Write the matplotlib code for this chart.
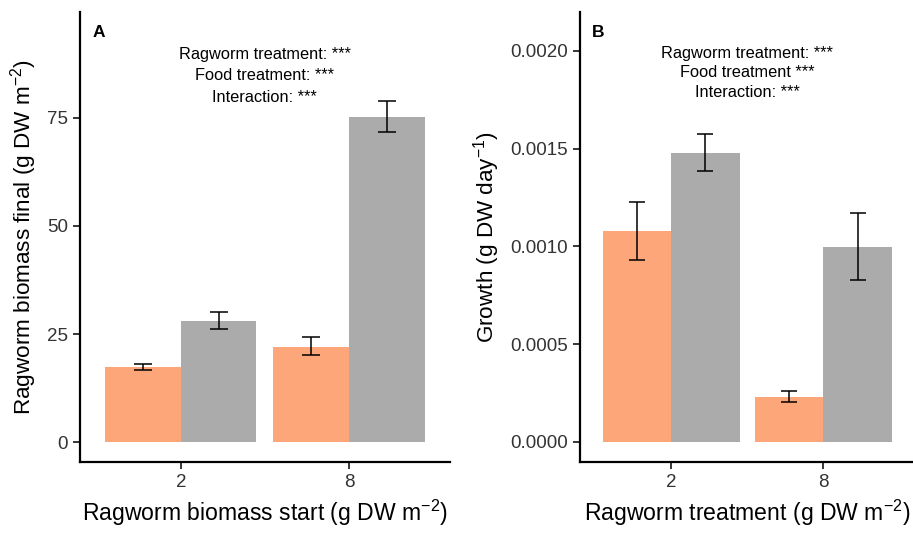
import matplotlib
matplotlib.use("Agg")
import matplotlib.pyplot as plt
import numpy as np

plt.rcParams['font.family'] = ['Liberation Sans', 'DejaVu Sans']
plt.rcParams['mathtext.default'] = 'regular'

groups = ["2", "8"]
food_colors = ["#FDA67A", "#ABABAB"]

# panel A: final biomass (orange = no food, gray = food)
biomass_orange = [17.4, 22.1]
biomass_orange_lo = [16.6, 20.1]
biomass_orange_hi = [18.1, 24.2]
biomass_gray = [28.1, 75.2]
biomass_gray_lo = [26.1, 71.7]
biomass_gray_hi = [30.0, 79.0]

# panel B: growth
growth_orange = [0.00108, 0.00023]
growth_orange_lo = [0.00093, 0.000202]
growth_orange_hi = [0.001228, 0.00026]
growth_gray = [0.001479, 0.000998]
growth_gray_lo = [0.001385, 0.000828]
growth_gray_hi = [0.001575, 0.00117]

notes_a = ["Ragworm treatment: ***", "Food treatment: ***", "Interaction: ***"]
notes_b = ["Ragworm treatment: ***", "Food treatment ***", "Interaction: ***"]


def draw_panel(ax, vals, los, his, notes, note_y, letter, ylim, yticks, yfmt,
               xlabel, ylabel, cap):
    x = np.arange(1, len(groups) + 1)
    w = 0.45
    for k, off in enumerate([-w / 2, w / 2]):
        v = np.array(vals[k])
        lo = np.array(los[k])
        hi = np.array(his[k])
        ax.bar(x + off, v, width=w, color=food_colors[k], linewidth=0)
        ax.errorbar(x + off, v, yerr=[v - lo, hi - v], fmt='none', ecolor='black',
                    elinewidth=1.1, capsize=cap, capthick=1.1)
    ax.set_xlim(0.4, 2.6)
    ax.set_ylim(*ylim)
    ax.set_xticks(x)
    ax.set_xticklabels(groups)
    ax.set_yticks(yticks)
    ax.set_yticklabels([yfmt.format(t) for t in yticks])
    ax.tick_params(labelsize=13.5, length=5, width=1.1, color='black', labelcolor='#333333')
    for s in ['top', 'right']:
        ax.spines[s].set_visible(False)
    for s in ['left', 'bottom']:
        ax.spines[s].set_linewidth(1.6)
    ax.set_xlabel(xlabel, fontsize=16.6, labelpad=5)
    ax.set_ylabel(ylabel, fontsize=16.2, labelpad=6)
    for t, yy in zip(notes, note_y):
        ax.text(1.5, yy, t, ha='center', va='center', fontsize=11.8)
    ax.text(0.035, 0.955, letter, transform=ax.transAxes, fontsize=12.5,
            fontweight='bold', ha='left', va='center')


fig = plt.figure(figsize=(9.13, 5.41), dpi=100)
ax1 = fig.add_axes([0.0876, 0.146, 0.405, 0.832])
ax2 = fig.add_axes([0.635, 0.146, 0.367, 0.832])

draw_panel(ax1, [biomass_orange, biomass_gray], [biomass_orange_lo, biomass_gray_lo],
           [biomass_orange_hi, biomass_gray_hi], notes_a, [89.6, 84.8, 79.6], "A",
           (-4.6, 99.5), [0, 25, 50, 75], "{:.0f}",
           "Ragworm biomass start (g DW m$^{-2}$)", "Ragworm biomass final (g DW m$^{-2}$)", 6.3)
draw_panel(ax2, [growth_orange, growth_gray], [growth_orange_lo, growth_gray_lo],
           [growth_orange_hi, growth_gray_hi], notes_b, [0.001988, 0.001888, 0.001788], "B",
           (-0.000103, 0.00220), [0, 0.0005, 0.0010, 0.0015, 0.0020], "{:.4f}",
           "Ragworm treatment (g DW m$^{-2}$)", "Growth (g DW day$^{-1}$)", 5.6)

fig.savefig("out.png", dpi=100)
